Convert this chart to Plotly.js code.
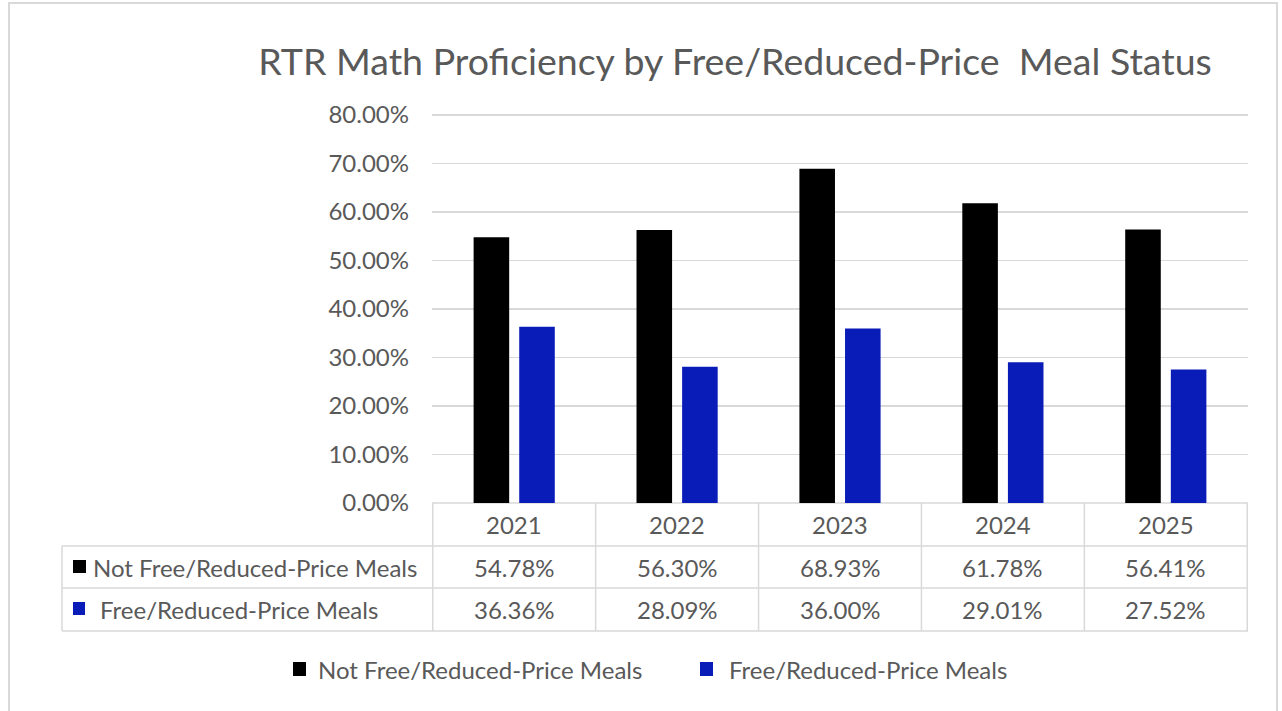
<!DOCTYPE html>
<html>
<head>
<meta charset="utf-8">
<script src="https://cdn.plot.ly/plotly-3.0.1.min.js"></script>
<style>
  html, body { margin: 0; padding: 0; background: #fff; }
  #chart { width: 1282px; height: 711px; }
</style>
</head>
<body>
<div id="chart"></div>
<script>
// ---- data ----
const categories = ['2021', '2022', '2023', '2024', '2025'];
const seriesNames = ['Not Free/Reduced-Price Meals', 'Free/Reduced-Price Meals'];
const notFreeValues = [0.5478, 0.5630, 0.6893, 0.6178, 0.5641];
const freeValues = [0.3636, 0.2809, 0.3600, 0.2901, 0.2752];
const yTicks = [0, 0.1, 0.2, 0.3, 0.4, 0.5, 0.6, 0.7, 0.8];

// ---- layout helpers ----
const W = 1282, H = 711;
const M = { l: 432, r: 34, t: 112, b: 208 };
const PW = W - M.l - M.r, PH = H - M.t - M.b;
const px = x => (x - M.l) / PW;           // pixel -> paper x
const py = y => (H - M.b - y) / PH;       // pixel -> paper y
const yTop = 0.8 * PH / 388;              // so that 80% sits at y=115 px

const FONT = 'Lato, "Open Sans", sans-serif';
const TXT = '#595959';
const GRID = '#d9d9d9';
const colors = ['#000000', '#0a1cb8'];
const FS = 24;

const fmt = v => (v * 100).toFixed(2) + '%';

const traces = [
  { type: 'bar', name: seriesNames[0], x: categories, y: notFreeValues,
    marker: { color: colors[0] }, hoverinfo: 'x+y' },
  { type: 'bar', name: seriesNames[1], x: categories, y: freeValues,
    marker: { color: colors[1] }, hoverinfo: 'x+y' }
];

// table geometry (pixels)
const rowY = [503, 546, 588, 631];
const tableLeft = 62;

const shapes = [];
const line = (o) => Object.assign({ type: 'line', line: { color: GRID, width: 1.5 }, layer: 'below' }, o);

// outer chart border
shapes.push({ type: 'rect', xref: 'paper', yref: 'paper',
  x0: px(9), x1: px(1277), y0: py(3), y1: py(730),
  line: { color: '#d9d9d9', width: 2 }, layer: 'below' });

// horizontal table lines
shapes.push(line({ xref: 'paper', yref: 'paper', x0: 0, x1: 1, y0: py(rowY[0]), y1: py(rowY[0]) }));
for (let r = 1; r < rowY.length; r++) {
  shapes.push(line({ xref: 'paper', yref: 'paper', x0: px(tableLeft), x1: 1, y0: py(rowY[r]), y1: py(rowY[r]) }));
}
// vertical lines at category boundaries
for (let i = 0; i <= categories.length; i++) {
  shapes.push(line({ xref: 'x', yref: 'paper', x0: i - 0.5, x1: i - 0.5, y0: py(rowY[0]), y1: py(rowY[3]) }));
}
// left edge of label column
shapes.push(line({ xref: 'paper', yref: 'paper', x0: px(tableLeft), x1: px(tableLeft), y0: py(rowY[1]), y1: py(rowY[3]) }));

// legend keys inside table and in the bottom legend
const keyBoxes = [[73, 86, 560, 573], [73, 85, 602, 615]];
const legendBoxes = [[293, 306, 662, 676], [700, 713, 662, 676]];
const legendTextX = [316, 727];
const legendMidY = 669;
[keyBoxes, legendBoxes].forEach(set => set.forEach((b, k) => {
  shapes.push({ type: 'rect', xref: 'paper', yref: 'paper',
    x0: px(b[0]), x1: px(b[1]), y0: py(b[2]), y1: py(b[3]),
    fillcolor: colors[k], line: { width: 0 }, layer: 'above' });
}));

const annotations = [];
const cellFont = { family: FONT, size: FS, color: TXT };
const midY = r => py((rowY[r] + rowY[r + 1]) / 2);
categories.forEach((c, i) => {
  annotations.push({ xref: 'x', yref: 'paper', x: i, y: midY(0), text: c,
    showarrow: false, font: cellFont, xanchor: 'center', yanchor: 'middle' });
  annotations.push({ xref: 'x', yref: 'paper', x: i, y: midY(1), text: fmt(notFreeValues[i]),
    showarrow: false, font: cellFont, xanchor: 'center', yanchor: 'middle' });
  annotations.push({ xref: 'x', yref: 'paper', x: i, y: midY(2), text: fmt(freeValues[i]),
    showarrow: false, font: cellFont, xanchor: 'center', yanchor: 'middle' });
});
annotations.push({ xref: 'paper', yref: 'paper', x: px(91), y: midY(1), text: seriesNames[0],
  showarrow: false, font: cellFont, xanchor: 'left', yanchor: 'middle' });
annotations.push({ xref: 'paper', yref: 'paper', x: px(98), y: midY(2), text: seriesNames[1],
  showarrow: false, font: cellFont, xanchor: 'left', yanchor: 'middle' });
// bottom legend labels
seriesNames.forEach((n, k) => {
  annotations.push({ xref: 'paper', yref: 'paper', x: px(legendTextX[k]), y: py(legendMidY), text: n,
    showarrow: false, font: cellFont, xanchor: 'left', yanchor: 'middle' });
});

const layout = {
  width: W, height: H,
  margin: M,
  paper_bgcolor: '#ffffff', plot_bgcolor: '#ffffff',
  font: { family: FONT, color: TXT, size: FS },
  title: { text: 'RTR Math Proficiency by Free/Reduced-Price&nbsp; Meal Status',
    xref: 'container', yref: 'container', x: 735 / W, y: 1 - 62 / H,
    xanchor: 'center', yanchor: 'middle',
    font: { family: FONT, size: 37.5, color: TXT } },
  barmode: 'group', bargap: 0.44, bargroupgap: 0.22,
  xaxis: { type: 'category', showticklabels: false, showgrid: false, zeroline: false,
    showline: false, ticks: '', fixedrange: true },
  yaxis: { range: [0, yTop], tickvals: yTicks, tickformat: '.2%', gridcolor: GRID, gridwidth: 1.5,
    zeroline: false, showline: false, ticks: '', ticklabelstandoff: 22,
    tickfont: { family: FONT, size: FS, color: TXT }, fixedrange: true },
  showlegend: false,
  shapes: shapes,
  annotations: annotations
};

Plotly.newPlot('chart', traces, layout, { displayModeBar: false, staticPlot: true });
</script>
</body>
</html>
